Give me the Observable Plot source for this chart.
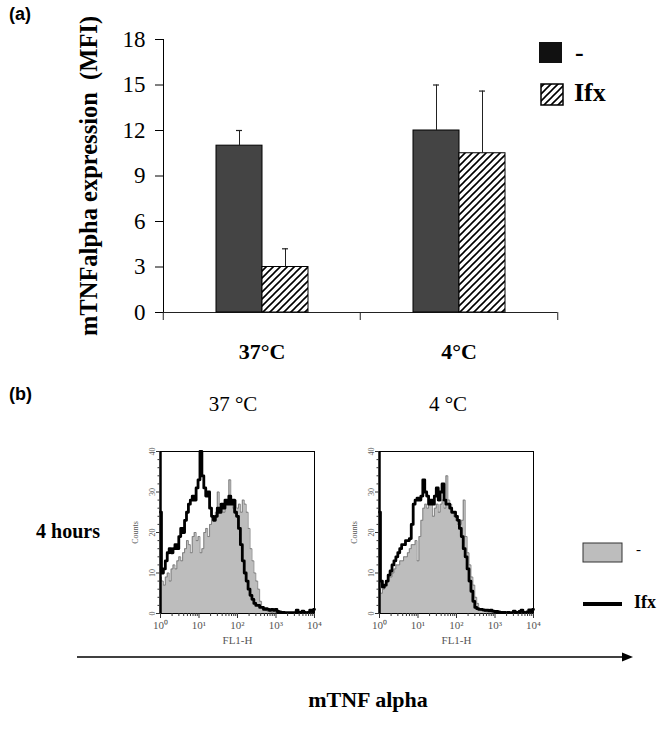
<!DOCTYPE html>
<html>
<head>
<meta charset="utf-8">
<script src="https://cdn.jsdelivr.net/npm/d3@7"></script>
<script src="https://cdn.jsdelivr.net/npm/@observablehq/plot@0.6"></script>
<style>
  html, body { margin: 0; padding: 0; background: white; }
  #root { position: relative; width: 669px; height: 741px; overflow: hidden; background: white; font-family: "Liberation Serif", serif; }
  .abs { position: absolute; white-space: nowrap; }
  .c { transform: translate(-50%, -50%); }
  .panel { font-family: "Liberation Sans", Arial, sans-serif; font-weight: bold; font-size: 18px; }
  .serif { font-family: "Liberation Serif", serif; }
</style>
</head>
<body>
<div id="root">
  <svg width="0" height="0" style="position:absolute">
    <defs>
      <pattern id="hatch" patternUnits="userSpaceOnUse" width="7" height="7">
        <rect width="7" height="7" fill="white"></rect>
        <path d="M-1,1 l2,-2 M0,7 l7,-7 M6,8 l2,-2" stroke="black" stroke-width="1.6"></path>
      </pattern>
    </defs>
  </svg>
  <div id="plotA" class="abs" style="left:0;top:0"></div>
  <div id="hist37" class="abs" style="left:120px;top:441px"></div>
  <div id="hist4" class="abs" style="left:339px;top:441px"></div>
</div>
<script>
// ---------- Panel (a) data ----------
const categories = ["37°C", "4°C"];
const series = ["-", "Ifx"];
const meanControl = [11, 12];
const meanIfx = [3, 10.5];
const errControl = [1, 3];
const errIfx = [1.2, 4.1];
const yTicksA = [0, 3, 6, 9, 12, 15, 18];

// ---------- Panel (b) data ----------
const fl1Decade = [0,0.05,0.1,0.15,0.2,0.25,0.3,0.35,0.4,0.45,0.5,0.55,0.6,0.65,0.7,0.75,0.8,0.85,0.9,0.95,
  1,1.05,1.1,1.15,1.2,1.25,1.3,1.35,1.4,1.45,1.5,1.55,1.6,1.65,1.7,1.75,1.8,1.85,1.9,1.95,
  2,2.05,2.1,2.15,2.2,2.25,2.3,2.35,2.4,2.45,2.5,2.55,2.6,2.65,2.7,2.75,2.8,2.85,2.9,2.95,
  3,3.05,3.1,3.15,3.2,3.25,3.3,3.35,3.4,3.45,3.5,3.55,3.6,3.65,3.7,3.75,3.8,3.85,3.9,3.95,4];
const count37Control = [9,8,7,9,10,8,11,12,11,13, 14,13,15,16,18,17,15,19,20,18,
  19,15,16,20,21,19,22,24,23,25, 30,27,26,25,28,27,33,27,26,28,
  26,27,25,28,27,25,21,16,13,10, 8,6,3,1.5,1,0.8,0.5,0.4,0.3,0.4,
  0.3,0.2,0.2,0.2,0.2,0.2,0.2,0.2,0.2,0.2, 0.2,0.2,0.2,0.2,0.2,0.2,0.2,0.2,0.2,0.2,0.2];
const count37Ifx = [25,10,11,13,15,16,15,16,17,16, 19,21,20,23,25,27,28,29,28,31,
  33,40,34,31,29,30,26,24,23,24, 26,25,27,26,28,27,29,27,28,25,
  24,21,17,13,10,8,6,4.5,3.5,2.5, 2,2,1.5,1.5,1,1.2,1,0.8,1,0.8,
  1,0.5,0.4,0.3,0.3,0.2,0.2,0.2,0.2,0.2, 0.2,0.8,0.3,0.2,0.6,0.3,0.2,0.3,0.8,0.5,1];
const count4Control = [6,5,6,7,8,9,9,10,11,12, 12,13,13,14,14,15,16,17,17,18,
  13,19,23,26,27,26,28,27,24,26, 27,25,27,28,26,34,28,27,25,24,
  23,22,22,23,28,19,15,12,9,7, 4,2.5,1.2,0.8,0.6,0.5,0.4,0.3,0.3,0.3,
  0.2,0.2,0.2,0.2,0.2,0.2,0.2,0.2,0.2,0.2, 0.2,0.2,0.2,0.2,0.2,0.2,0.2,0.2,0.2,0.2,0.2];
const count4Ifx = [25,8,6.5,7,8,9.5,10.5,12,13,14, 15,16,17,17,18,18,18.5,22,27,28,
  28.5,28,29,33,30,29,27,28,27,29, 31,28,30,32,28,27,27,26,25,25,
  24,23,21,19,16,14,11,8,5.5,3, 1.5,1.2,1,1,0.9,0.8,0.8,0.7,0.8,0.6,
  0.5,0.5,0.4,0.3,0.3,0.3,0.2,0.3,0.2,0.2, 0.6,0.3,0.2,0.5,0.8,0.3,0.2,0.4,0.9,0.5,1];
const histTicksY = [0, 10, 20, 30, 40];
const histMinorY = [2,4,6,8,12,14,16,18,22,24,26,28,32,34,36,38];
const histTicksX = [1, 10, 100, 1000, 10000];
const histMinorX = [2,3,4,5,6,7,8,9,20,30,40,50,60,70,80,90,200,300,400,500,600,700,800,900,2000,3000,4000,5000,6000,7000,8000,9000];
const histTitles = ["37 °C", "4 °C"];

// ---------- Panel (a) ----------
const rows = [];
categories.forEach((c, i) => {
  rows.push({cat: c, series: series[0], mean: meanControl[i], err: errControl[i]});
  rows.push({cat: c, series: series[1], mean: meanIfx[i], err: errIfx[i]});
});

const plotA = Plot.plot({
  width: 669, height: 370,
  marginLeft: 162, marginRight: 112, marginTop: 39, marginBottom: 58,
  style: {background: "transparent", overflow: "visible", fontFamily: "Liberation Serif, serif", fontSize: "23px", color: "black"},
  fx: {domain: categories, padding: 0, axis: null},
  x: {domain: series, paddingInner: 0, paddingOuter: 1.1, axis: null},
  y: {domain: [0, 18], ticks: yTicksA, tickSize: 8, tickPadding: 10, line: true, label: null},
  marks: [
    Plot.ruleY([0], {stroke: "#222"}),
    Plot.barY(rows.filter(d => d.series === "-"), {fx: "cat", x: "series", y: "mean", fill: "#444", stroke: "black", strokeWidth: 1}),
    Plot.barY(rows.filter(d => d.series === "Ifx"), {fx: "cat", x: "series", y: "mean", fill: "url(#hatch)", stroke: "black", strokeWidth: 1}),
    Plot.ruleX(rows, {fx: "cat", x: "series", y1: "mean", y2: d => d.mean + d.err, stroke: "#222", strokeWidth: 1}),
    Plot.tickY(rows, {fx: "cat", x: "series", y: d => d.mean + d.err, stroke: "#222", strokeWidth: 1.2, insetLeft: 20, insetRight: 20}),
    Plot.axisFx({anchor: "bottom", tickSize: 0, tickPadding: 31, fontSize: 22, fontWeight: "bold", label: null}),
    Plot.axisFx({anchor: "bottom", tickSize: 8, tickFormat: () => "", dx: -98.75, label: null, stroke: "#222"}),
    Plot.axisFx({anchor: "bottom", ticks: ["4°C"], tickSize: 8, tickFormat: () => "", dx: 98.75, label: null, stroke: "#222"})
  ]
});
document.getElementById("plotA").append(plotA);

// ---------- Panel (b) ----------
const sup = ["⁰", "¹", "²", "³", "⁴"];
function histogram(ctrl, ifx) {
  const data = fl1Decade.map((d, i) => ({fl: Math.pow(10, d), ctrl: ctrl[i], ifx: ifx[i]}));
  return Plot.plot({
    width: 200, height: 220,
    marginLeft: 40, marginRight: 6, marginTop: 10, marginBottom: 48,
    style: {background: "transparent", overflow: "visible", fontFamily: "Liberation Serif, serif", fontSize: "10px", color: "#555"},
    x: {type: "log", domain: [1, 10000], axis: null},
    y: {domain: [0, 40], axis: null},
    marks: [
      Plot.areaY(data, {x: "fl", y: "ctrl", fill: "#bdbdbd", curve: "step"}),
      Plot.lineY(data, {x: "fl", y: "ctrl", stroke: "#707070", strokeWidth: 0.8, curve: "step"}),
      Plot.lineY(data, {x: "fl", y: "ifx", stroke: "black", strokeWidth: 2.8, curve: "step"}),
      Plot.frame({stroke: "black", strokeWidth: 1}),
      Plot.ruleX([1], {stroke: "black", strokeWidth: 2.5}),
      Plot.axisY({ticks: histMinorY, tickSize: 2.5, tickFormat: () => "", label: null, stroke: "#333"}),
      Plot.axisY({ticks: histTicksY, tickSize: 4, tickPadding: 2, tickRotate: -90, fontSize: 8, fill: "#555", stroke: "#333",
        label: "Counts", labelAnchor: "center", labelArrow: "none", labelOffset: 28}),
      Plot.axisX({ticks: histMinorX, tickSize: 3, tickFormat: () => "", label: null, stroke: "#333"}),
      Plot.axisX({ticks: histTicksX, tickSize: 5, tickPadding: 3, fontSize: 11, fill: "#555", stroke: "#333",
        tickFormat: d => "10" + sup[Math.round(Math.log10(d))],
        label: "FL1-H", labelAnchor: "center", labelArrow: "none", labelOffset: 30})
    ]
  });
}
document.getElementById("hist37").append(histogram(count37Control, count37Ifx));
document.getElementById("hist4").append(histogram(count4Control, count4Ifx));

// ---------- Texts, legends, arrow ----------
const root = document.getElementById("root");
function addHTML(html) { root.insertAdjacentHTML("beforeend", html); }
addHTML(`<div class="abs panel" style="left:9px;top:4px">(a)</div>`);
addHTML(`<div class="abs panel" style="left:9px;top:384px">(b)</div>`);
addHTML(`<div class="abs c serif" style="left:89px;top:176px;transform:translate(-50%,-50%) rotate(-90deg);font-size:24.5px;font-weight:bold">mTNFalpha expression&nbsp; (MFI)</div>`);
// legend (a)
addHTML(`<svg class="abs" style="left:538px;top:41px" width="28" height="66">
  <rect x="1" y="1" width="23" height="21" fill="#111"></rect>
  <rect x="3" y="43" width="22" height="21" fill="url(#hatch)" stroke="black" stroke-width="1.5"></rect></svg>`);
addHTML(`<div class="abs serif" style="left:575px;top:38px;font-size:26px;font-weight:bold">-</div>`);
addHTML(`<div class="abs serif" style="left:574px;top:78px;font-size:26px;font-weight:bold">${series[1]}</div>`);
// titles (b)
addHTML(`<div class="abs c serif" style="left:233px;top:404px;font-size:21px">${histTitles[0]}</div>`);
addHTML(`<div class="abs c serif" style="left:448px;top:404px;font-size:21px">${histTitles[1]}</div>`);
addHTML(`<div class="abs c serif" style="left:68px;top:531px;font-size:20px;font-weight:bold">4 hours</div>`);
// legend (b)
addHTML(`<svg class="abs" style="left:582px;top:542px" width="42" height="66">
  <rect x="1" y="1" width="39" height="19" fill="#bdbdbd" stroke="#333" stroke-width="1"></rect>
  <line x1="1" x2="40" y1="62" y2="62" stroke="black" stroke-width="4"></line></svg>`);
addHTML(`<div class="abs serif" style="left:636px;top:541px;font-size:15px">-</div>`);
addHTML(`<div class="abs serif" style="left:634px;top:592px;font-size:18px;font-weight:bold">${series[1]}</div>`);
// arrow
addHTML(`<svg class="abs" style="left:70px;top:649px" width="575" height="18">
  <line x1="7" x2="554" y1="8" y2="8" stroke="black" stroke-width="1.3"></line>
  <polygon points="552,3.5 563,8 552,12.5" fill="black"></polygon></svg>`);
addHTML(`<div class="abs c serif" style="left:368px;top:700px;font-size:22px;font-weight:bold">mTNF alpha</div>`);
</script>
</body>
</html>
